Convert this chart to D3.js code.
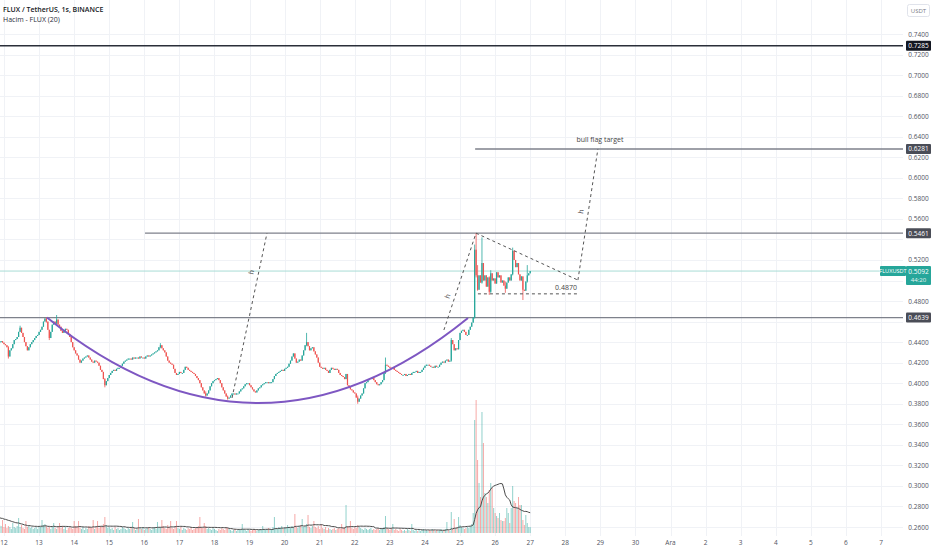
<!DOCTYPE html>
<html lang="tr">
<head>
<meta charset="utf-8">
<title>FLUX / TetherUS, 1s, BINANCE</title>
<script src="https://cdn.jsdelivr.net/npm/d3@7"></script>
<style>
  body { margin: 0; background: #fff; }
  svg text { font-family: "Open Sans", "Noto Sans", sans-serif; }
</style>
</head>
<body>
<svg id="chart" width="932" height="550"></svg>
<script>
// hourly candles, closes in 1e-4 USDT, first candle = 11 Kas 21:00
var closes = [
  4400,4410,4395,4380,4370,4350,4260,4320,4340,4380,4420,4430,4450,4500,4540,4490,4450,4400,4360,4320,4350,4380,4400,4420,
  4440,4460,4470,4500,4520,4550,4600,4630,4600,4520,4440,4500,4570,4600,4580,4620,4570,4550,4510,4490,4510,4530,4520,4480,
  4450,4400,4350,4320,4290,4270,4230,4200,4220,4240,4250,4260,4270,4250,4230,4210,4200,4220,4210,4200,4170,4130,4110,4040,
  3980,4020,4050,4080,4100,4120,4130,4120,4140,4150,4150,4170,4190,4210,4220,4230,4240,4240,4230,4250,4240,4250,4250,4240,
  4260,4250,4250,4240,4260,4270,4260,4270,4280,4290,4300,4310,4320,4350,4370,4340,4320,4300,4260,4220,4200,4190,4180,4140,
  4100,4080,4090,4110,4100,4100,4130,4160,4150,4130,4120,4110,4100,4090,4070,4050,4030,4000,3960,3930,3900,3880,3900,3930,
  3970,4000,4020,4030,4040,4050,4030,4000,3960,3930,3900,3870,3850,3860,3880,3900,3900,3890,3900,3900,3920,3940,3950,3970,
  3990,4000,4000,3980,3960,3940,3920,3910,3930,3950,3960,3980,3990,4000,4010,4010,4000,4010,4010,4040,4070,4090,4100,4110,
  4120,4130,4120,4140,4150,4160,4190,4220,4260,4290,4240,4200,4210,4230,4220,4270,4320,4370,4400,4360,4320,4340,4350,4310,
  4280,4250,4200,4160,4150,4140,4150,4130,4120,4100,4130,4150,4140,4130,4140,4130,4100,4080,4070,4060,4040,4090,3980,3960,
  3940,3930,3910,3900,3860,3820,3850,3880,3900,3950,4000,4010,4030,4040,4050,4050,4030,4010,3990,3980,3990,4010,4030,4100,
  4180,4170,4160,4150,4140,4150,4130,4120,4110,4100,4090,4080,4080,4090,4070,4080,4090,4080,4100,4110,4110,4120,4100,4110,
  4110,4130,4150,4170,4180,4180,4170,4160,4160,4150,4170,4160,4160,4180,4200,4210,4200,4220,4230,4210,4220,4420,4380,4320,
  4340,4330,4420,4490,4510,4520,4500,4470,4470,4520,4550,4590,4640,5300,5050,4910,5050,4980,5170,5000,5050,4940,5030,4890,
  5070,5000,5020,4970,5080,5030,5050,4980,5000,4950,4920,4980,5030,5000,5060,5290,5200,5130,5170,5060,5000,5040,4910,4900,
  4990,5050,5070,5092
];
var firstOpen = 4390;

// [candle, high, low] where the wick shows
var wicks = [
  [6, 4360, 4240], [14, 4560, 4500], [32, 4639, 4590], [34, 4520, 4420], [39, 4664, 4570],
  [72, 4050, 3960], [110, 4390, 4340], [141, 3920, 3870], [156, 3880, 3840], [210, 4490, 4360],
  [245, 3880, 3800], [264, 4250, 4090], [309, 4440, 4210], [325, 5350, 4630], [326, 5461, 5030],
  [327, 5150, 4900], [330, 5420, 4970], [335, 5040, 4860], [336, 5100, 4880], [346, 4990, 4880],
  [351, 5320, 5050], [358, 5040, 4810], [361, 5150, 4980]
];

// volume, thousand FLUX
var volumes = [
  8,7,13,6,9,5,7,6,4,10,6,5,7,15,6,8,5,4,12,6,7,5,6,4,
  5,6,4,7,6,13,8,9,7,5,6,4,6,10,5,4,6,10,5,7,4,6,3,5,
  6,5,4,12,7,6,12,5,4,6,3,5,4,7,6,5,13,4,6,12,5,7,6,9,
  16,8,5,6,4,5,3,6,4,5,3,4,6,5,4,3,5,4,6,11,5,3,4,14,
  5,4,6,3,4,5,6,4,3,5,6,4,11,5,6,13,7,5,4,8,6,12,5,4,
  6,12,5,4,6,3,5,4,3,5,4,6,3,4,5,6,7,16,6,5,10,7,4,5,
  4,3,5,4,3,2,4,3,5,4,3,6,5,4,3,2,3,4,2,3,4,3,9,4,
  3,2,4,3,2,3,4,3,2,3,4,3,7,4,3,4,5,3,4,6,16,5,4,6,
  5,7,4,6,5,8,6,5,7,6,19,6,5,7,8,14,6,7,9,18,6,5,7,12,
  6,5,7,4,9,5,4,6,3,5,4,3,4,5,3,4,5,4,9,5,6,28,7,6,
  12,5,4,6,5,8,6,5,4,3,5,4,3,4,5,3,4,3,4,5,3,4,5,6,
  17,5,4,3,5,9,3,4,3,2,4,3,2,3,2,4,3,2,9,3,2,3,2,3,
  2,3,4,2,3,2,3,2,4,3,2,3,2,3,4,2,3,4,11,3,2,21,4,14,
  5,6,16,8,6,5,4,5,6,5,7,9,20,113,133,73,50,36,121,90,40,36,30,43,
  50,45,25,20,17,15,20,13,12,12,15,25,20,10,25,47,32,30,25,36,28,28,13,8,
  18,10,6,6
];
// hours before the first visible candle, for the 20 period average
var volPrev = [18,16,20,14,15,17,13,16,19,15,14,12,16,18,15,13,17,14,16];

var dayLabels = ["12","13","14","15","16","17","18","19","20","21","22","23","24","25","26","27","28","29","30","Ara","2","3","4","5","6","7"];
var priceTicks = [0.26,0.28,0.30,0.32,0.34,0.36,0.38,0.40,0.42,0.44,0.46,0.48,0.50,0.52,0.54,0.56,0.58,0.60,0.62,0.64,0.66,0.68,0.70,0.72,0.74];

// horizontal levels: price, start day
var levelPrices = [0.7285, 0.6281, 0.5461, 0.4639];
var levelStart = [-1, 13.43, 4.02, -1];
var lastPrice = 0.5092;

// drawings in [day, price]
var cupCurve = [[1.226, 0.4639], [7.24, 0.2977], [13.227, 0.4635]];
var dashedLines = [
  [[6.5, 0.3856], [7.497, 0.5461]],
  [[12.54, 0.4518], [13.455, 0.5461]],
  [[13.455, 0.5461], [16.36, 0.5004]],
  [[13.51, 0.4870], [16.36, 0.4870]],
  [[16.36, 0.5004], [16.93, 0.6281]]
];
// which dashed line carries an "h", and how far along it
var hMarks = [[0, 0.76], [1, 0.34], [4, 0.52]];

var W = 932, H = 550, plotRight = 903;
var svg = d3.select('#chart');

var x = d3.scaleLinear().domain([0, 25]).range([4, 881]);
var y = d3.scaleLinear().domain([0.26, 0.74]).range([527, 34]);
var yVol = d3.scaleLinear().domain([0, 140]).range([533, 393]);

var candles = closes.map(function(c, i) {
  var o = i ? closes[i - 1] : firstOpen;
  return {t: (i - 3) / 24, o: o / 1e4, c: c / 1e4, h: Math.max(o, c) / 1e4, l: Math.min(o, c) / 1e4, v: volumes[i]};
});
wicks.forEach(function(w) {
  candles[w[0]].h = w[1] / 1e4;
  candles[w[0]].l = w[2] / 1e4;
});
var allVol = volPrev.concat(volumes);
candles.forEach(function(d, i) { d.ma = d3.mean(allVol.slice(i, i + 20)); });

svg.append('rect').attr('width', W).attr('height', H).attr('fill', '#fff');
svg.append('clipPath').attr('id', 'plot').append('rect')
  .attr('x', 0).attr('y', 0).attr('width', plotRight).attr('height', 536);

// grid
var grid = svg.append('g').attr('stroke', '#f0f2f6').attr('stroke-width', 1);
grid.selectAll('.vg').data(dayLabels).enter().append('line')
  .attr('x1', function(d, i) { return Math.round(x(i)) + 0.5; })
  .attr('x2', function(d, i) { return Math.round(x(i)) + 0.5; })
  .attr('y1', 0).attr('y2', 536);
grid.selectAll('.hg').data(priceTicks).enter().append('line')
  .attr('x1', 0).attr('x2', plotRight)
  .attr('y1', function(d) { return Math.round(y(d)) + 0.5; })
  .attr('y2', function(d) { return Math.round(y(d)) + 0.5; });

var plot = svg.append('g').attr('clip-path', 'url(#plot)');

// volume
plot.append('g').selectAll('rect').data(candles).enter().append('rect')
  .attr('x', function(d) { return x(d.t) - 0.5; })
  .attr('width', 1)
  .attr('y', function(d) { return yVol(d.v); })
  .attr('height', function(d) { return yVol(0) - yVol(d.v); })
  .attr('fill', function(d) { return d.c >= d.o ? 'rgba(38,166,154,0.5)' : 'rgba(239,83,80,0.5)'; });

plot.append('path').datum(candles)
  .attr('fill', 'none').attr('stroke', '#4a4a4a').attr('stroke-width', 1)
  .attr('d', d3.line().x(function(d) { return x(d.t); }).y(function(d) { return yVol(d.ma); }));

// horizontal levels
plot.append('line')
  .attr('x1', 0).attr('x2', plotRight)
  .attr('y1', y(lastPrice)).attr('y2', y(lastPrice))
  .attr('stroke', '#a8dcd6').attr('stroke-width', 1);
plot.selectAll('.lvl').data(levelPrices).enter().append('line')
  .attr('x1', function(d, i) { return x(levelStart[i]); }).attr('x2', plotRight)
  .attr('y1', function(d) { return y(d); }).attr('y2', function(d) { return y(d); })
  .attr('stroke', function(d, i) { return i === 0 ? '#2a2e39' : '#7e818b'; })
  .attr('stroke-width', 1.4);

// candles
var cg = plot.append('g');
cg.selectAll('line').data(candles).enter().append('line')
  .attr('x1', function(d) { return x(d.t); }).attr('x2', function(d) { return x(d.t); })
  .attr('y1', function(d) { return y(d.h); }).attr('y2', function(d) { return y(d.l); })
  .attr('stroke', function(d) { return d.c >= d.o ? '#26a69a' : '#ef5350'; })
  .attr('stroke-width', 0.8);
cg.selectAll('rect').data(candles).enter().append('rect')
  .attr('x', function(d) { return x(d.t) - 0.6; })
  .attr('width', 1.2)
  .attr('y', function(d) { return y(Math.max(d.o, d.c)); })
  .attr('height', function(d) { return Math.max(1, Math.abs(y(d.o) - y(d.c))); })
  .attr('fill', function(d) { return d.c >= d.o ? '#26a69a' : '#ef5350'; });

// cup
var cup = d3.path();
cup.moveTo(x(cupCurve[0][0]), y(cupCurve[0][1]));
cup.quadraticCurveTo(x(cupCurve[1][0]), y(cupCurve[1][1]), x(cupCurve[2][0]), y(cupCurve[2][1]));
plot.append('path').attr('d', cup.toString())
  .attr('fill', 'none').attr('stroke', '#7e57c2').attr('stroke-width', 2);

// measured moves and flag
plot.selectAll('.dash').data(dashedLines).enter().append('line')
  .attr('x1', function(d) { return x(d[0][0]); }).attr('y1', function(d) { return y(d[0][1]); })
  .attr('x2', function(d) { return x(d[1][0]); }).attr('y2', function(d) { return y(d[1][1]); })
  .attr('stroke', '#555').attr('stroke-width', 1).attr('stroke-dasharray', '3,3');

hMarks.forEach(function(m) {
  var s = dashedLines[m[0]];
  var x0 = x(s[0][0]), y0 = y(s[0][1]), x1 = x(s[1][0]), y1 = y(s[1][1]);
  var px = x0 + (x1 - x0) * m[1], py = y0 + (y1 - y0) * m[1];
  var ang = Math.atan2(y1 - y0, x1 - x0) * 180 / Math.PI;
  plot.append('text')
    .attr('transform', 'translate(' + (px - 5) + ',' + py + ') rotate(' + ang + ')')
    .attr('text-anchor', 'middle').attr('font-size', 7).attr('fill', '#444')
    .text('h');
});

plot.append('text')
  .attr('x', x(16.93) + 2).attr('y', y(0.6281) - 7)
  .attr('text-anchor', 'middle').attr('font-size', 7).attr('fill', '#444')
  .text('bull flag target');
plot.append('text')
  .attr('x', x(16.36) - 1).attr('y', y(0.4870) - 4)
  .attr('text-anchor', 'end').attr('font-size', 7).attr('fill', '#444')
  .text('0.4870');

// price scale; ticks that sit under a label box are not written
var boxes = levelPrices.map(function(p) { return [y(p) - 5, y(p) + 5]; });
boxes.push([y(lastPrice) - 5, y(lastPrice) + 14]);
var shownTicks = priceTicks.filter(function(p) {
  var ty = y(p);
  return boxes.every(function(b) { return ty + 2 < b[0] || ty - 3 > b[1]; });
});
svg.append('g').selectAll('text').data(shownTicks).enter().append('text')
  .attr('x', 918.5).attr('y', function(d) { return y(d) + 2.5; })
  .attr('text-anchor', 'middle').attr('font-size', 6.5).attr('fill', '#50535e')
  .text(function(d) { return d.toFixed(4); });

var lv = svg.append('g').selectAll('g').data(levelPrices).enter().append('g');
lv.append('rect')
  .attr('x', 906).attr('width', 25).attr('height', 10)
  .attr('y', function(d) { return y(d) - 5; }).attr('rx', 1)
  .attr('fill', function(d, i) { return i === 0 ? '#131722' : '#4a4d57'; });
lv.append('text')
  .attr('x', 918.5).attr('y', function(d) { return y(d) + 2.5; })
  .attr('text-anchor', 'middle').attr('font-size', 6.5).attr('fill', '#fff')
  .text(function(d) { return d.toFixed(4); });

svg.append('rect').attr('x', 906).attr('y', y(lastPrice) - 5).attr('width', 25).attr('height', 19)
  .attr('rx', 1).attr('fill', '#26a69a');
svg.append('text').attr('x', 918.5).attr('y', y(lastPrice) + 2.5)
  .attr('text-anchor', 'middle').attr('font-size', 6.5).attr('fill', '#fff')
  .text(lastPrice.toFixed(4));
svg.append('text').attr('x', 918.5).attr('y', y(lastPrice) + 11)
  .attr('text-anchor', 'middle').attr('font-size', 6).attr('fill', '#e6f6f4')
  .text('44:20');
svg.append('rect').attr('x', 880).attr('y', y(lastPrice) - 5).attr('width', 26).attr('height', 10)
  .attr('rx', 1).attr('fill', '#26a69a');
svg.append('text').attr('x', 893).attr('y', y(lastPrice) + 2.3)
  .attr('text-anchor', 'middle').attr('font-size', 5.6).attr('fill', '#fff')
  .text('FLUXUSDT');

svg.append('rect').attr('x', 907.5).attr('y', 4.5).attr('width', 22).attr('height', 12).attr('rx', 2)
  .attr('fill', '#fff').attr('stroke', '#e0e3eb');
svg.append('text').attr('x', 918.5).attr('y', 13)
  .attr('text-anchor', 'middle').attr('font-size', 6).attr('fill', '#787b86')
  .text('USDT');

// time scale
svg.append('g').selectAll('text').data(dayLabels).enter().append('text')
  .attr('x', function(d, i) { return x(i); }).attr('y', 545)
  .attr('text-anchor', 'middle').attr('font-size', 6.5).attr('fill', '#50535e')
  .text(function(d) { return d; });

// legend
svg.append('text').attr('x', 3).attr('y', 12).attr('font-size', 7).attr('font-weight', 600)
  .attr('fill', '#131722').text('FLUX / TetherUS, 1s, BINANCE');
svg.append('text').attr('x', 3).attr('y', 22).attr('font-size', 7)
  .attr('fill', '#2a2e39').text('Hacim - FLUX (20)');
</script>
</body>
</html>
